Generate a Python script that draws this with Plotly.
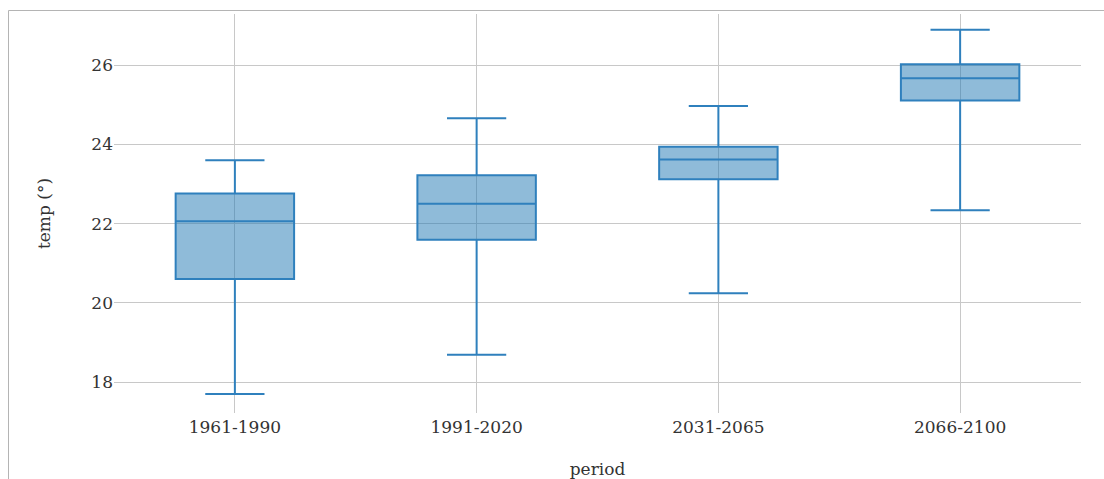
import plotly.graph_objects as go

periods = ["1961-1990", "1991-2020", "2031-2065", "2066-2100"]
lower_whisker = [17.70, 18.69, 20.24, 22.34]
q1_vals = [20.60, 21.59, 23.12, 25.11]
median_vals = [22.06, 22.50, 23.62, 25.67]
q3_vals = [22.76, 23.22, 23.94, 26.02]
upper_whisker = [23.60, 24.66, 24.97, 26.89]
y_ticks = [18, 20, 22, 24, 26]

W, H = 1104, 479
ML, MR, MT, MB = 114, 23, 14, 66
FONT = "DejaVu Serif"
TXT = "#333333"
GRID = "#c8c8c8"

fig = go.Figure(
    go.Box(
        x=periods,
        q1=q1_vals,
        median=median_vals,
        q3=q3_vals,
        lowerfence=lower_whisker,
        upperfence=upper_whisker,
        fillcolor="rgba(31,119,180,0.5)",
        line=dict(color="#2f80bd", width=2),
        whiskerwidth=0.5,
        boxpoints=False,
        hoverinfo="skip",
        showlegend=False,
    )
)

pw = W - ML - MR
ph = H - MT - MB
fx = (8.5 - ML) / pw
fy = 1 + (MT - 10.5) / ph
fig.add_shape(type="line", xref="paper", yref="paper", x0=fx, x1=2, y0=fy, y1=fy,
              line=dict(color="#b4b4b4", width=1))
fig.add_shape(type="line", xref="paper", yref="paper", x0=fx, x1=fx, y0=fy, y1=-1,
              line=dict(color="#b4b4b4", width=1))

fig.update_layout(
    width=W, height=H,
    margin=dict(l=ML, r=MR, t=MT, b=MB, pad=0),
    paper_bgcolor="white", plot_bgcolor="white",
    font=dict(family=FONT, size=17, color=TXT),
    boxgap=0.51, boxgroupgap=0,
    xaxis=dict(
        title=dict(text="period", standoff=27, font=dict(family=FONT, size=17, color=TXT)),
        showgrid=True, gridcolor=GRID, gridwidth=1,
        showline=False, zeroline=False, ticks="", ticklabelstandoff=2,
        tickfont=dict(family=FONT, size=17, color=TXT),
        automargin=False,
    ),
    yaxis=dict(
        title=dict(text="temp (°)", standoff=36, font=dict(family=FONT, size=17, color=TXT)),
        range=[17.22, 27.29],
        tickvals=y_ticks,
        showgrid=True, gridcolor=GRID, gridwidth=1,
        showline=False, zeroline=False, ticks="",
        tickfont=dict(family=FONT, size=17, color=TXT),
        automargin=False,
    ),
)

fig.write_html("out.html")
